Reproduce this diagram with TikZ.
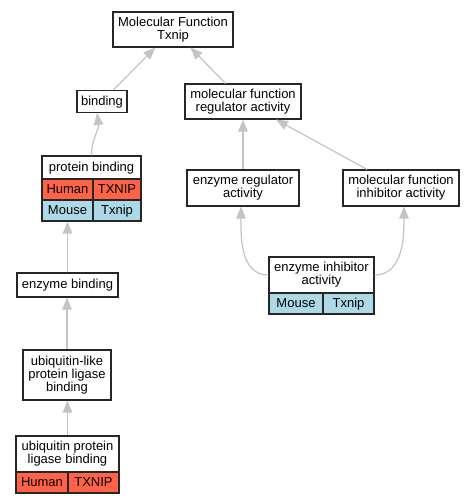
\documentclass[tikz,border=0pt]{standalone}
\usepackage{fontspec}
\setmainfont{Liberation Sans}
\usetikzlibrary{arrows.meta,calc}
\newcommand\mystrut{\rule[-2.2pt]{0pt}{12.7pt}}
\begin{document}
\begin{tikzpicture}[x=1pt,y=-1pt,
  every node/.style={font=\fontsize{13}{13}\selectfont,execute at begin node={\mystrut},execute at end node={\mystrut}},
  box/.style={draw=black!85,line width=1.1pt,fill=white,inner sep=0pt,align=center,minimum width=#1},
  human/.style={draw=black!85,line width=1.1pt,fill=hcol,inner sep=0pt,minimum height=21,minimum width=#1},
  mouse/.style={draw=black!85,line width=1.1pt,fill=mcol,inner sep=0pt,minimum height=21,minimum width=#1},
  edge/.style={draw=ecol,line width=1.2pt,-{Triangle[length=12pt,width=9.5pt]},shorten <=0pt}
]
\definecolor{hcol}{HTML}{FF6347}
\definecolor{mcol}{HTML}{ADD8E6}
\definecolor{ecol}{HTML}{C4C4C4}
\useasboundingbox (0,0) rectangle (475,504);
\fill[white] (0,0) rectangle (475,504);

% nodes
\node[box=120,minimum height=35] (mf) at (173,29.5) {Molecular Function\\Txnip};
\node[box=50,minimum height=22] (binding) at (102,101.5) {binding};
\node[box=116,minimum height=35] (mfra) at (243,101.5) {molecular function\\regulator activity};

\node[box=99,minimum height=23] (pbt) at (91.5,167.5) {protein binding};
\node[human=51] (pbh) at (67.5,189.5) {Human};
\node[human=48] (pbhg) at (117,189.5) {TXNIP};
\node[mouse=51] (pbm) at (67.5,210.5) {Mouse};
\node[mouse=48] (pbmg) at (117,210.5) {Txnip};

\node[box=112,minimum height=36] (era) at (243,188) {enzyme regulator\\activity};
\node[box=116,minimum height=36] (mfia) at (401,188) {molecular function\\inhibitor activity};

\node[box=105,minimum height=36] (eiat) at (321.5,275) {enzyme inhibitor\\activity};
\node[mouse=54] (eiam) at (296,303.5) {Mouse};
\node[mouse=51] (eiamg) at (348.5,303.5) {Txnip};

\node[box=101,minimum height=24] (eb) at (67.5,285) {enzyme binding};
\node[box=88,minimum height=50] (ul) at (67,375) {ubiquitin-like\\protein ligase\\binding};

\node[box=103,minimum height=36] (uplt) at (67.5,454) {ubiquitin protein\\ligase binding};
\node[human=52] (uplh) at (42,482.5) {Human};
\node[human=51] (uplhg) at (93.5,482.5) {TXNIP};

% edges
\draw[edge] (binding) -- (mf);
\draw[edge] (mfra) -- (mf);
\draw[edge] (pbt.north) to[out=90,in=-82] ([xshift=-5]binding.south);
\draw[edge] (era) -- (mfra);
\draw[edge] (mfia) -- (mfra);
\draw[edge] (eb.north) -- (eb.north |- pbm.south);
\draw[edge] (ul.north) -- (ul.north |- eb.south);
\draw[edge] (uplt.north) -- (uplt.north |- ul.south);
\draw[edge] (eiat.west) to[out=180,in=-90] ([xshift=-2]era.south);
\draw[edge] (eiat.east) to[out=0,in=-90] ([xshift=3]mfia.south);
\end{tikzpicture}
\end{document}
